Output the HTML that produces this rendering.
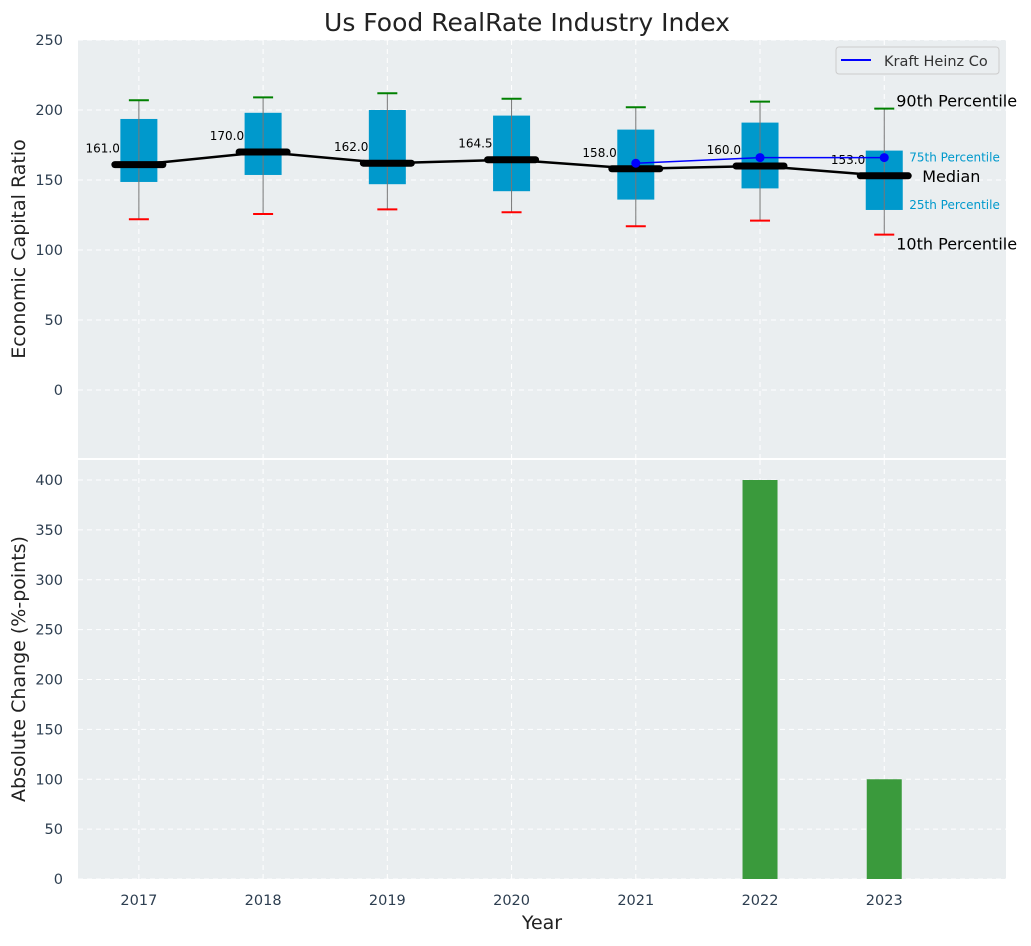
<!DOCTYPE html>
<html><head><meta charset="utf-8">
<style>
body{margin:0;background:#fff;font-family:"DejaVu Sans","Liberation Sans",sans-serif;}
svg text{font-family:"DejaVu Sans","Liberation Sans",sans-serif;}
</style></head>
<body>
<svg id="chart" width="1031" height="942" xmlns="http://www.w3.org/2000/svg"></svg>
<script>
const years=["2017","2018","2019","2020","2021","2022","2023"];
const p10=[122,125.7,129,127,117,121,111];
const q1=[148.6,153.6,147,142,136,144,128.6];
const med=[161,170,162,164.5,158,160,153];
const q3=[193.6,198,200,196,186,191,171];
const p90=[207,209,212,208,202,206,201];
const kraftYears=[4,5,6];
const kraftVals=[162,166,166];
const changeYears=[5,6];
const changeVals=[400,100];
const topTicks=[0,50,100,150,200,250];
const botTicks=[0,50,100,150,200,250,300,350,400];

const NS="http://www.w3.org/2000/svg";
const svg=document.getElementById('chart');
function el(t,a,p){const e=document.createElementNS(NS,t);for(const k in a)e.setAttribute(k,a[k]);(p||svg).appendChild(e);return e;}
const L=78,R=1006;
const x=i=>L+(i+0.49)*(R-L)/7.47;
const yT=v=>390-v*1.4;
const yB=v=>879-v*0.9975;
const tickColor="#2d3e50";

let bg1=el('rect',{x:L,y:40,width:R-L,height:418,fill:'#eaeef0'});


let bg2=el('rect',{x:L,y:460,width:R-L,height:419,fill:'#eaeef0'});



years.forEach((y,i)=>{
  el('line',{x1:x(i),x2:x(i),y1:40,y2:458,stroke:'#fff','stroke-dasharray':'5,4','stroke-width':1});
  el('line',{x1:x(i),x2:x(i),y1:460,y2:879,stroke:'#fff','stroke-dasharray':'5,4','stroke-width':1});
  let t=el('text',{x:x(i),y:905,'font-size':14.5,fill:tickColor,'text-anchor':'middle'});t.textContent=y;
  
  
});
topTicks.forEach(v=>{
  el('line',{x1:L,x2:R,y1:yT(v),y2:yT(v),stroke:'#fff','stroke-dasharray':'5,4'});
  let t=el('text',{x:63,y:yT(v)+5,'font-size':14.5,fill:tickColor,'text-anchor':'end'});t.textContent=v;
  
  
});
botTicks.forEach(v=>{
  el('line',{x1:L,x2:R,y1:yB(v),y2:yB(v),stroke:'#fff','stroke-dasharray':'5,4'});
  let t=el('text',{x:63,y:yB(v)+5,'font-size':14.5,fill:tickColor,'text-anchor':'end'});t.textContent=v;
  
  
});

years.forEach((y,i)=>{
  const cx=x(i);
  let b=el('rect',{x:cx-18.5,y:yT(q3[i]),width:37,height:yT(q1[i])-yT(q3[i]),fill:'#0099cc'});
  
  
  el('line',{x1:cx,x2:cx,y1:yT(p90[i]),y2:yT(p10[i]),stroke:'#777','stroke-width':1});
  let c1=el('line',{x1:cx-10,x2:cx+10,y1:yT(p90[i]),y2:yT(p90[i]),stroke:'green','stroke-width':2});
  
  
  let c2=el('line',{x1:cx-10,x2:cx+10,y1:yT(p10[i]),y2:yT(p10[i]),stroke:'red','stroke-width':2});
  
  
});
let mp=el('polyline',{points:med.map((v,i)=>x(i)+','+yT(v)).join(' '),fill:'none',stroke:'#000','stroke-width':2.5});


med.forEach((v,i)=>{
  let m=el('line',{x1:x(i)-24,x2:x(i)+24,y1:yT(v),y2:yT(v),stroke:'#000','stroke-width':7,'stroke-linecap':'round'});
  
  
  let t=el('text',{x:x(i)-19,y:yT(v)-12,'font-size':12,fill:'#000','text-anchor':'end'});t.textContent=v.toFixed(1);
  
  
});
let kp=el('polyline',{points:kraftYears.map((k,j)=>x(k)+','+yT(kraftVals[j])).join(' '),fill:'none',stroke:'blue','stroke-width':1.5});


kraftYears.forEach((k,j)=>{
  let c=el('circle',{cx:x(k),cy:yT(kraftVals[j]),r:4.5,fill:'blue'});
  
  
});
const ax=x(6);
[["90th Percentile",ax+12,yT(p90[6])-2,16,'#000'],["75th Percentile",ax+25,yT(q3[6])+11,12,'#0099cc'],["Median",ax+38,yT(med[6])+6,16,'#000'],["25th Percentile",ax+25,yT(q1[6])-1,12,'#0099cc'],["10th Percentile",ax+12,yT(p10[6])+15,16,'#000']].forEach(a=>{
  let t=el('text',{x:a[1],y:a[2],'font-size':a[3],fill:a[4]});t.textContent=a[0];
  
  
});
let lg=el('g',{});


el('rect',{x:836,y:47,width:163,height:27,rx:3,fill:'#eaeef0',stroke:'#ccc'},lg);
el('line',{x1:841,x2:871,y1:60,y2:60,stroke:'blue','stroke-width':2},lg);
let lt=el('text',{x:884,y:66,'font-size':14.5,fill:'#333'},lg);lt.textContent='Kraft Heinz Co';
changeYears.forEach((k,j)=>{
  let b=el('rect',{x:x(k)-17.5,y:yB(changeVals[j]),width:35,height:yB(0)-yB(changeVals[j]),fill:'#3a9a3c'});
  
  
});
let tt=el('text',{x:527,y:31,'font-size':25,fill:'#222','text-anchor':'middle'});tt.textContent='Us Food RealRate Industry Index';


let y1=el('text',{x:25,y:249,'font-size':19,fill:'#222','text-anchor':'middle',transform:'rotate(-90 25 249)'});y1.textContent='Economic Capital Ratio';


let y2=el('text',{x:25,y:669,'font-size':19,fill:'#222','text-anchor':'middle',transform:'rotate(-90 25 669)'});y2.textContent='Absolute Change (%-points)';


let xt=el('text',{x:542,y:929,'font-size':19,fill:'#222','text-anchor':'middle'});xt.textContent='Year';


</script>
</body></html>
